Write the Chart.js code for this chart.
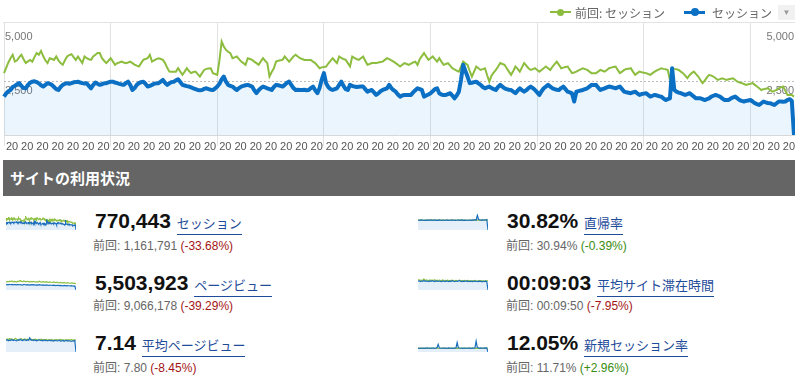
<!DOCTYPE html>
<html><head><meta charset="utf-8">
<script src="https://cdn.jsdelivr.net/npm/chart.js@4/dist/chart.umd.min.js"></script>
<style>
html,body{margin:0;padding:0;background:#fff;}
body{width:795px;height:380px;position:relative;overflow:hidden;font-family:"Liberation Sans","Noto Sans CJK JP",Arial,sans-serif;}
#main{position:absolute;left:0;top:0;}
#topline{position:absolute;left:3px;top:22px;width:792px;height:1px;background:#e3e3e3;}
.lg{position:absolute;top:4px;font-size:12px;line-height:17px;color:#666;font-family:"Noto Sans CJK JP","Liberation Sans",sans-serif;white-space:nowrap;}
.mk{position:absolute;top:12px;width:21px;height:0;}
.mk i{position:absolute;left:0;width:21px;}
.mk b{position:absolute;border-radius:50%;}
.mk.g i{top:-1px;height:2px;background:#8cbd3e;}
.mk.g b{left:7px;top:-3.5px;width:7px;height:7px;background:#8cbd3e;}
.mk.b i{top:-1.5px;height:3px;background:#0b70c4;}
.mk.b b{left:6.5px;top:-4px;width:8px;height:8px;background:#0b70c4;}
#dd{position:absolute;left:778px;top:5px;width:17px;height:15px;background:#f1f1f1;color:#999;font-size:8px;line-height:15px;text-align:center;}
#banner{position:absolute;left:3px;top:160px;width:785px;height:36px;background:#646564;color:#fff;font:bold 15px/36px "Noto Sans CJK JP",sans-serif;padding-left:7px;}
.big{position:absolute;font:bold 21px/21px "Liberation Sans",Arial,sans-serif;color:#111;white-space:nowrap;}
.big a{display:inline-block;font:13px/14px "Noto Sans CJK JP",sans-serif;color:#1f4c9a;border-bottom:1px solid #1f4c9a;padding-bottom:4px;text-decoration:none;vertical-align:baseline;}
.sub{position:absolute;font:12px/14px "Liberation Sans","Noto Sans CJK JP",Arial,sans-serif;color:#666;white-space:nowrap;}
.neg{color:#a31515;}
.pos{color:#3a8c12;}
canvas.sp{position:absolute;}
</style>
</head><body>
<canvas id="main" width="795" height="155"></canvas>
<div id="topline"></div>
<div class="mk g" style="left:550px"><i></i><b></b></div>
<div class="lg" style="left:575px">前回: セッション</div>
<div class="mk b" style="left:684px"><i></i><b></b></div>
<div class="lg" style="left:712px">セッション</div>
<div id="dd">▼</div>

<div id="banner">サイトの利用状況</div>

<canvas class="sp" id="sp1" width="70" height="17" style="left:6px;top:213px"></canvas>
<canvas class="sp" id="sp2" width="70" height="17" style="left:6px;top:273px"></canvas>
<canvas class="sp" id="sp3" width="70" height="17" style="left:6px;top:335px"></canvas>
<canvas class="sp" id="sp4" width="70" height="17" style="left:418px;top:213px"></canvas>
<canvas class="sp" id="sp5" width="70" height="17" style="left:418px;top:273px"></canvas>
<canvas class="sp" id="sp6" width="70" height="17" style="left:418px;top:335px"></canvas>

<div class="big" style="left:95px;top:210px">770,443 <a>セッション</a></div>
<div class="sub" style="left:93px;top:239px">前回: 1,161,791 <span class="neg">(-33.68%)</span></div>
<div class="big" style="left:95px;top:272px">5,503,923 <a>ページビュー</a></div>
<div class="sub" style="left:93px;top:299px">前回: 9,066,178 <span class="neg">(-39.29%)</span></div>
<div class="big" style="left:95px;top:332px">7.14 <a>平均ページビュー</a></div>
<div class="sub" style="left:93px;top:361px">前回: 7.80 <span class="neg">(-8.45%)</span></div>

<div class="big" style="left:507px;top:210px">30.82% <a>直帰率</a></div>
<div class="sub" style="left:506px;top:239px">前回: 30.94% <span class="pos">(-0.39%)</span></div>
<div class="big" style="left:507px;top:272px">00:09:03 <a>平均サイト滞在時間</a></div>
<div class="sub" style="left:506px;top:299px">前回: 00:09:50 <span class="neg">(-7.95%)</span></div>
<div class="big" style="left:507px;top:332px">12.05% <a>新規セッション率</a></div>
<div class="sub" style="left:506px;top:361px">前回: 11.71% <span class="pos">(+2.96%)</span></div>

<script>
// ---- main chart data (daily sessions) ----
const sessCur = [
1800,1950,2050,2110,2250,2300,2380,
2430,2300,2200,2190,2350,2450,2500,
2520,2480,2420,2330,2270,2350,2430,
2400,2350,2250,2150,2110,2250,2350,
2400,2430,2400,2430,2470,2480,2500,
2460,2430,2410,2430,2300,2190,2350,
2460,2400,2350,2380,2420,2430,2470,
2500,2500,2460,2430,2400,2370,2350,
2430,2500,2350,2110,2200,2350,2430,
2480,2500,2400,2270,2300,2350,2400,
2420,2430,2500,2580,2450,2350,2420,
2480,2500,2560,2610,2480,2350,2320,
2290,2270,2230,2190,2150,2110,2100,
2110,2160,2190,2150,2120,2110,2180,
2270,2400,2600,2740,2500,2350,2300,
2270,2180,2110,2200,2270,2300,2330,
2350,2310,2270,2100,1960,2100,2200,
2270,2230,2190,2150,2110,2250,2350,
2330,2300,2270,2350,2450,2500,2350,
2200,2110,2120,2110,2110,2120,2100,
2110,2200,2270,2100,1960,2200,2600,
2900,2430,2250,2150,2110,2150,2190,
2350,2500,2300,2150,2110,2350,2300,
2270,2250,2260,2270,2270,2150,2030,
2080,2110,2000,1880,1950,2050,2110,
2150,2190,2350,2200,2100,2030,1900,
1800,1850,1880,1880,1870,1880,2000,
2100,2190,2150,2110,1800,1850,1900,
1960,2050,2150,2190,1960,1900,1870,
1880,1920,1960,1850,1720,1850,2030,
2600,3290,3000,2740,2430,2450,2480,
2500,2420,2350,2250,2190,2230,2270,
2200,2150,2110,2250,2350,2270,2190,
2150,2120,2110,2030,1960,2080,2190,
2100,2030,2100,2200,2270,2200,2110,
2000,1880,2050,2190,2270,2350,2270,
2190,2150,2120,2110,2200,2270,2150,
2030,2000,1950,1570,2030,2060,2090,
2110,2150,2190,2270,2350,2340,2350,
2230,2110,2150,2190,2230,2270,2250,
2220,2190,2230,2270,2150,2030,2000,
1980,1960,2000,2030,1950,1880,1920,
1940,1960,1880,1800,1840,1880,1850,
1820,1800,1720,1640,1680,1720,3130,
2110,2030,1990,1960,1920,1880,1920,
1960,1880,1800,1720,1720,1720,1680,
1640,1680,1720,1800,1840,1880,1840,
1800,1720,1640,1640,1640,1720,1760,
1800,1720,1640,1600,1570,1600,1620,
1640,1570,1490,1450,1410,1490,1570,
1530,1500,1490,1450,1410,1490,1570,
1570,1560,1570,1640,1680,1600,0
];
const sessPrev = [
2900,3150,3400,3600,3760,3440,3500,
3650,3760,3550,3370,3450,3520,3440,
3650,3840,3760,3940,3700,3500,3370,
3600,3560,3520,3680,3500,3370,3290,
3500,3680,3740,3790,3650,3520,3680,
3520,3370,3680,3600,3550,3520,3680,
3760,3840,3840,3600,3480,3370,3480,
3600,3450,3290,3370,3400,3440,3400,
3370,3400,3440,3370,3300,3250,3210,
3370,3520,3560,3600,3760,3440,3500,
3560,3600,3560,3520,3370,3150,2970,
2960,2970,2970,3130,2970,2820,2970,
3130,3000,2900,2950,2970,2850,2740,
2900,3050,3100,3120,3130,2900,2860,
2820,3500,4380,4150,3990,3900,3840,
3600,3640,3680,3560,3440,3370,3290,
3600,3560,3520,3440,3370,3290,3450,
3600,3480,3370,2740,2950,3130,3440,
3480,3500,3520,3680,3560,3440,3560,
3680,3760,3680,3600,3560,3520,3520,
3520,3520,3440,3370,3250,3130,3170,
3190,3210,3350,3480,3600,3480,3370,
3680,3620,3560,3520,3370,3210,3680,
3620,3560,3520,3600,3680,3480,3290,
3330,3370,3370,3370,3400,3420,3440,
3520,3600,3560,3500,3440,3370,3290,
3210,3290,3370,3330,3290,3350,3400,
3440,3290,3550,3700,3840,3680,3520,
3600,3680,3560,3440,3600,3440,3290,
3330,3370,3250,3130,3080,3020,2970,
3200,3440,3360,3290,3000,2740,2970,
3210,3130,3050,3090,3130,2800,2500,
2780,2920,3050,3200,3370,3330,3290,
3130,2970,2820,3000,3210,3100,2970,
3170,3370,3250,3130,3050,3090,3130,
3050,2970,3050,3130,3210,3130,3050,
3200,3320,3440,3290,3130,3160,3190,
3210,3050,2900,2930,2970,3030,3080,
3130,3090,3050,2970,2900,2900,2900,
2970,3050,3010,2970,3050,3130,3160,
3190,3210,3050,2900,2970,3050,3090,
3110,3130,2970,2820,2900,2970,2940,
2920,2900,2860,2820,2900,2970,3030,
3080,3130,3100,3080,3050,2580,3130,
3100,3080,3050,2970,2900,2780,2660,
2800,2900,2970,2850,2740,2580,2430,
2550,2700,2820,2780,2740,2660,2580,
2620,2660,2620,2580,2610,2640,2660,
2580,2500,2460,2430,2390,2350,2380,
2400,2430,2350,2270,2190,2110,2150,
2170,2190,2110,2030,2070,2110,2190,
2230,2270,2080,1880,1880,1880,1800
];
const seriesNames = ['セッション', '前回: セッション'];
const yTicks = [2500, 5000];
const yMax = 5250;
const xTickText = '20';
const tickEvery = 7;
const startDate = [2014, 9, 1];

// ---- sparkline data ----
const pvCur = [15500,17200,16200,17800,16500,17500,16000,17200,16800,15800,17500,16500,17000,16200,15500,17800,16500,15800,16800,16000,15200,16500,15800,16800,16000,15200,16200,15500,16800,15800,15000,16000,15500,14800,15800,15000,14500,15500,14800,14200,15200,14500,13800,14800,14200,13500,14500,13800,13200,14200,13500,12800,13800,13200,12500,13500,12800,12200,13000,0];
const pvPrev = [24500,26800,25200,27500,26000,28200,25500,27000,26200,25000,27800,26500,29500,27000,26000,28500,26800,25500,27200,26000,24800,26500,25200,27000,25800,24500,26200,25000,27500,25500,24800,26000,25200,24000,25800,24500,23800,25500,24200,23500,25000,23800,22800,24500,23200,22500,24000,22800,21800,23500,22200,21500,23000,21800,20800,22500,21500,20500,21000,20000];
const apvCur = [7.2,7.6,7.0,7.4,7.3,7.8,7.1,7.5,7.2,7.0,7.6,7.3,7.9,7.4,7.1,7.7,7.6,7.2,7.5,7.3,8.8,7.4,7.6,7.2,7.5,7.3,7.0,7.4,7.6,7.2,7.3,7.0,7.5,7.1,7.3,6.9,7.2,7.4,7.0,7.2,6.8,7.1,7.3,6.9,7.1,7.4,6.8,7.0,7.2,6.7,7.0,7.3,6.8,7.1,6.9,6.6,7.0,6.8,7.2,0];
const apvPrev = [7.6,8.1,7.8,8.4,7.9,8.2,7.7,8.0,8.6,7.8,7.5,8.1,7.9,8.3,7.6,7.9,8.2,7.7,8.0,7.6,7.8,8.1,7.5,7.9,7.7,8.0,7.6,7.4,7.9,7.7,8.0,7.5,7.8,7.6,7.9,7.4,7.7,7.5,7.8,7.6,7.3,7.7,7.5,7.8,7.4,7.6,7.9,7.5,7.7,7.3,7.6,7.8,7.4,7.7,7.5,7.8,7.3,7.6,7.4,7.5];
const brCur = [30.5,31.2,30.0,31.5,30.8,29.8,31.0,30.4,31.8,30.2,30.9,31.4,30.1,30.7,31.6,30.3,30.9,29.9,31.3,30.6,30.2,31.1,30.5,29.8,31.4,30.7,30.0,31.2,30.6,31.7,30.4,29.9,31.0,30.5,31.3,30.0,30.8,31.5,30.2,30.9,30.4,31.2,29.8,30.6,31.0,30.3,31.4,30.7,32.5,31.0,46.0,33.5,31.2,30.6,31.8,30.9,32.0,31.4,32.8,0];
const brPrev = [31.0,30.6,31.4,30.8,31.2,30.5,31.1,30.9,30.4,31.3,30.7,31.0,30.6,31.5,30.8,30.3,31.2,30.9,31.4,30.6,31.0,30.7,31.3,30.5,31.1,30.8,30.4,31.2,30.9,31.0,30.6,31.3,30.8,30.5,31.1,30.9,31.4,30.7,31.0,30.6,31.2,30.8,30.5,31.1,30.9,31.3,30.7,31.0,30.6,31.2,30.8,31.4,30.9,30.6,31.1,30.8,31.0,30.7,31.2,30.9];
const asdCur = [550,575,530,560,545,590,535,565,548,525,570,540,585,550,530,575,555,535,560,540,520,565,545,530,570,550,525,555,540,580,545,520,560,535,550,600,540,525,555,535,545,565,525,545,530,555,520,540,560,530,545,520,550,535,515,545,530,555,520,0];
const asdPrev = [610,640,585,620,600,690,590,625,605,580,630,600,615,590,640,575,610,595,620,585,600,630,580,605,590,615,575,600,585,610,590,570,605,580,595,620,575,590,570,600,585,565,595,575,590,560,585,570,595,575,560,580,570,590,565,575,555,580,565,570];
const nsrCur = [12.0,11.6,12.4,11.8,12.2,11.5,12.1,11.9,12.6,11.7,12.3,11.8,12.0,12.5,11.6,12.2,13.5,24.0,13.0,12.1,11.7,12.4,11.9,12.2,11.5,12.0,12.6,11.8,12.3,11.6,12.1,11.9,12.8,30.0,14.0,12.5,11.8,12.2,11.6,12.4,12.0,11.7,12.3,11.9,12.5,11.6,12.2,12.0,12.9,34.0,14.5,12.4,12.0,12.6,11.8,12.3,12.1,12.7,12.2,0];
const nsrPrev = [11.5,11.9,11.3,11.8,11.6,12.0,11.4,11.7,11.9,11.5,11.8,11.3,11.7,12.1,11.6,11.4,11.9,11.7,11.5,11.8,12.0,11.6,11.4,11.9,11.7,11.5,11.8,11.6,12.0,11.4,11.7,11.9,11.5,11.8,11.6,11.3,11.7,12.0,11.6,11.8,11.5,11.9,11.7,11.4,11.8,11.6,12.1,11.7,11.5,11.9,11.6,11.8,11.4,11.7,12.0,11.6,11.8,11.5,11.9,11.7];

Chart.defaults.font.family = '"Liberation Sans", Arial, sans-serif';
Chart.defaults.animation = false;

const days = sessCur.map((_, i) => {
  const d = new Date(Date.UTC(startDate[0], startDate[1], startDate[2] + i));
  return d.getUTCFullYear() + '/' + (d.getUTCMonth() + 1) + '/' + d.getUTCDate();
});

const BLUE = '#0b70c4', GREEN = '#8cbd3e';
const weekly = c => c.index % tickEvery === 0;
const yAxis = (pos, showGrid) => ({
  position: pos, min: 0, max: yMax,
  afterBuildTicks: s => { s.ticks = yTicks.map(v => ({ value: v })); },
  grid: { display: showGrid, drawTicks: false, lineWidth: 1,
          color: c => (c.tick && c.tick.value === yTicks[0]) ? '#bdbdbd' : 'rgba(0,0,0,0)' },
  border: { display: false, dash: [2, 2] },
  ticks: { mirror: true, padding: pos === 'left' ? 1 : 0, labelOffset: 9, color: '#777',
           font: { size: 11 }, callback: v => v.toLocaleString('en-US') },
  afterFit: s => { s.width = 0; s.paddingTop = 0; s.paddingBottom = 0; }
});

new Chart(document.getElementById('main'), {
  type: 'line',
  data: {
    labels: days,
    datasets: [
      { label: seriesNames[0], data: sessCur, borderColor: BLUE, borderWidth: 4, pointRadius: 0,
        tension: 0, fill: 'origin', backgroundColor: 'rgba(30,140,230,0.09)', borderJoinStyle: 'round', yAxisID: 'y' },
      { label: seriesNames[1], data: sessPrev, borderColor: GREEN, borderWidth: 2, pointRadius: 0,
        tension: 0, fill: false, yAxisID: 'y' }
    ]
  },
  options: {
    responsive: false, animation: false, events: [],
    layout: { padding: { top: 23, left: 4, right: 1, bottom: 0 } },
    plugins: { legend: { display: false }, tooltip: { enabled: false },
               filler: { drawTime: 'beforeDatasetsDraw' } },
    scales: {
      x: {
        offset: false,
        grid: { color: c => weekly(c) ? '#e2e2e2' : 'rgba(0,0,0,0)',
                tickColor: c => weekly(c) ? '#e2e2e2' : 'rgba(0,0,0,0)', tickLength: 11, lineWidth: 1 },
        border: { display: true, color: '#d8d8d8' },
        ticks: { autoSkip: false, maxRotation: 0, minRotation: 0, padding: -6, labelOffset: 8,
                 color: '#555', font: { size: 11 },
                 callback: (v, i) => (i % tickEvery === 0 ? xTickText : null) },
        afterFit: s => { s.height = 20; s.paddingLeft = 0; s.paddingRight = 0; }
      },
      y: yAxis('left', true),
      y2: yAxis('right', false)
    }
  }
});

function spark(id, cur, prev) {
  new Chart(document.getElementById(id), {
    type: 'line',
    data: {
      labels: cur.map((_, i) => i),
      datasets: [
        { data: cur, borderColor: '#1b6fbd', borderWidth: 1.2, pointRadius: 0, tension: 0,
          fill: 'origin', backgroundColor: '#e4eff9' },
        { data: prev, borderColor: '#8dbf45', borderWidth: 1.2, pointRadius: 0, tension: 0, fill: false }
      ]
    },
    options: {
      responsive: false, animation: false, events: [],
      layout: { padding: { top: 1 } },
      plugins: { legend: { display: false }, tooltip: { enabled: false },
                 filler: { drawTime: 'beforeDatasetsDraw' } },
      scales: { x: { display: false, offset: false }, y: { display: false, min: 0 } }
    }
  });
}
spark('sp1', sessCur, sessPrev);
spark('sp2', pvCur, pvPrev);
spark('sp3', apvCur, apvPrev);
spark('sp4', brCur, brPrev);
spark('sp5', asdCur, asdPrev);
spark('sp6', nsrCur, nsrPrev);
</script>
</body></html>
